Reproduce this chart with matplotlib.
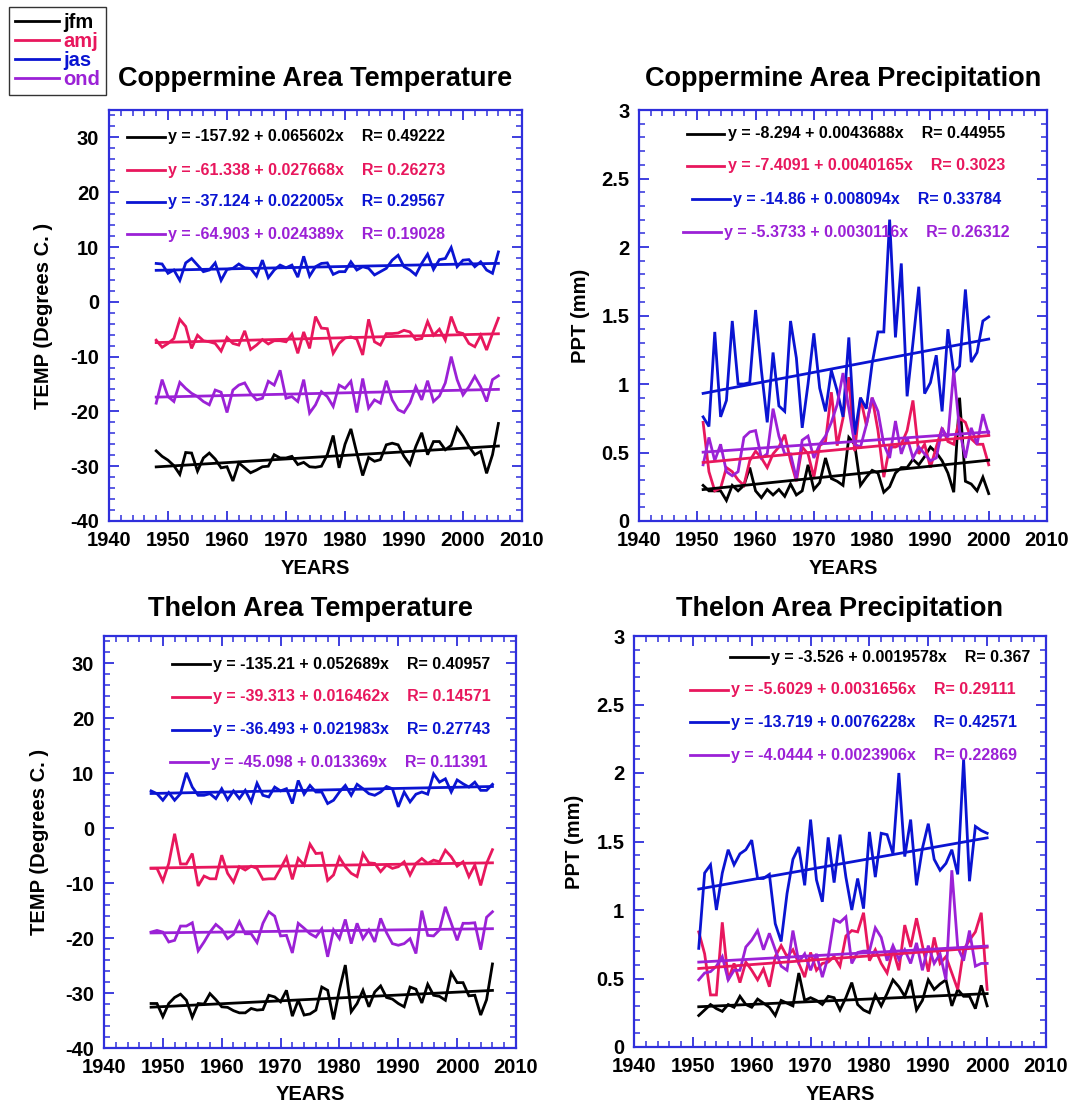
import numpy as np
import matplotlib
matplotlib.use("Agg")
import matplotlib.pyplot as plt
from matplotlib.lines import Line2D
from matplotlib.ticker import MultipleLocator, FormatStrFormatter

# フォント
plt.rcParams['font.family'] = ['Liberation Sans', 'DejaVu Sans']
plt.rcParams['font.weight'] = 'bold'
plt.rcParams['axes.unicode_minus'] = False

W, H = 1072, 1106

seasons = ['jfm', 'amj', 'jas', 'ond']
colors = ['black', '#e8175d', '#0a14d2', '#9b21d6']
axis_blue = '#2f2fdc'

temp_years = np.arange(1948, 2007)
ppt_years = np.arange(1951, 2001)

# Coppermine temperature
cop_temp_jfm = [-27.2, -28.2, -28.9, -29.9, -31.5, -27.5, -27.6, -30.9, -28.5, -27.6,
                -28.7, -30.3, -30.1, -32.7, -29.4, -30.3, -31.2, -30.7, -30.1, -30.0,
                -27.9, -28.5, -28.5, -28.2, -29.7, -29.3, -30.1, -30.2, -30.0, -27.9,
                -24.4, -30.3, -26.0, -23.2, -27.6, -31.7, -28.4, -29.1, -28.8, -26.1,
                -25.8, -26.1, -28.2, -29.7, -26.4, -23.9, -27.9, -25.5, -25.5, -27.0,
                -26.2, -23.0, -24.5, -26.4, -27.9, -27.3, -31.3, -27.9, -22.2]
cop_temp_amj = [-7.0, -8.3, -7.6, -6.7, -3.2, -4.5, -8.5, -6.1, -7.1, -7.3,
                -7.6, -9.0, -6.5, -7.6, -7.9, -5.3, -8.7, -7.9, -6.9, -7.7,
                -7.1, -7.1, -7.3, -5.9, -9.4, -5.5, -8.5, -2.7, -4.8, -4.9,
                -9.4, -7.6, -6.6, -6.4, -6.8, -9.7, -3.2, -7.3, -7.9, -5.8,
                -5.8, -5.7, -5.2, -5.5, -6.9, -6.7, -3.6, -6.1, -5.0, -7.0,
                -2.7, -5.5, -5.8, -7.6, -8.2, -6.1, -8.8, -5.8, -3.0]
cop_temp_jas = [7.0, 6.9, 5.2, 5.8, 3.9, 7.1, 7.9, 6.7, 5.5, 5.8,
                7.1, 3.9, 5.9, 6.1, 6.9, 6.2, 6.1, 4.7, 7.6, 4.4,
                5.8, 6.7, 6.2, 6.7, 4.5, 8.3, 4.7, 6.4, 7.0, 7.1,
                5.0, 5.5, 5.5, 7.3, 5.8, 6.4, 6.1, 4.9, 5.5, 6.1,
                7.6, 8.5, 6.4, 5.8, 4.9, 7.0, 8.7, 5.9, 7.7, 7.9,
                9.9, 6.4, 7.6, 7.7, 6.4, 7.3, 5.8, 5.2, 9.1]
cop_temp_ond = [-18.5, -14.2, -17.3, -18.2, -14.7, -15.8, -16.7, -17.3, -18.2, -18.8,
                -16.1, -16.5, -20.2, -16.1, -15.2, -14.8, -16.7, -17.9, -17.6, -14.5,
                -15.2, -12.5, -17.6, -17.3, -18.2, -14.2, -20.3, -18.8, -16.4, -17.3,
                -19.1, -15.2, -15.8, -14.5, -20.2, -14.0, -19.4, -17.9, -18.5, -14.4,
                -17.9, -19.7, -20.2, -18.5, -15.5, -17.9, -14.4, -18.2, -17.2, -14.8,
                -10.0, -14.2, -17.0, -15.5, -13.6, -15.5, -18.2, -14.2, -13.5]
cop_temp_a = [-157.92, -61.338, -37.124, -64.903]
cop_temp_b = [0.065602, 0.027668, 0.022005, 0.024389]
cop_temp_r = [0.49222, 0.26273, 0.29567, 0.19028]

# Coppermine precipitation
cop_ppt_jfm = [0.26, 0.22, 0.22, 0.22, 0.15, 0.26, 0.22, 0.26, 0.39, 0.22,
               0.17, 0.23, 0.19, 0.23, 0.18, 0.27, 0.19, 0.22, 0.41, 0.23,
               0.28, 0.46, 0.31, 0.29, 0.26, 0.61, 0.56, 0.26, 0.32, 0.37,
               0.35, 0.21, 0.25, 0.35, 0.39, 0.39, 0.45, 0.41, 0.47, 0.54,
               0.50, 0.44, 0.35, 0.21, 0.90, 0.29, 0.27, 0.22, 0.32, 0.20]
cop_ppt_amj = [0.72, 0.36, 0.22, 0.24, 0.39, 0.36, 0.30, 0.26, 0.44, 0.51,
               0.46, 0.39, 0.49, 0.54, 0.63, 0.44, 0.29, 0.54, 0.49, 0.32,
               0.55, 0.58, 0.94, 0.55, 0.75, 1.05, 0.51, 0.90, 0.70, 0.90,
               0.66, 0.32, 0.54, 0.54, 0.56, 0.66, 0.88, 0.49, 0.56, 0.39,
               0.54, 0.68, 0.58, 0.56, 0.75, 0.72, 0.60, 0.56, 0.56, 0.41]
cop_ppt_jas = [0.76, 0.69, 1.38, 0.76, 0.88, 1.46, 1.00, 1.00, 1.01, 1.54,
               1.10, 0.72, 1.23, 0.84, 0.80, 1.46, 1.19, 0.68, 1.00, 1.37,
               0.97, 0.80, 1.10, 0.95, 0.76, 1.34, 0.63, 0.90, 0.82, 1.15,
               1.38, 1.38, 2.20, 1.34, 1.88, 0.91, 1.30, 1.71, 0.93, 1.01,
               1.21, 0.80, 1.40, 1.08, 1.13, 1.69, 1.16, 1.23, 1.46, 1.49]
cop_ppt_ond = [0.41, 0.61, 0.44, 0.56, 0.36, 0.33, 0.36, 0.61, 0.65, 0.66,
               0.46, 0.49, 0.82, 0.62, 0.49, 0.49, 0.31, 0.59, 0.62, 0.46,
               0.56, 0.62, 0.72, 0.85, 1.08, 0.82, 0.56, 0.54, 0.70, 0.90,
               0.80, 0.56, 0.46, 0.73, 0.49, 0.61, 0.46, 0.54, 0.49, 0.44,
               0.46, 0.67, 0.61, 1.10, 0.66, 0.46, 0.68, 0.56, 0.78, 0.63]
cop_ppt_a = [-8.294, -7.4091, -14.86, -5.3733]
cop_ppt_b = [0.0043688, 0.0040165, 0.008094, 0.0030116]
cop_ppt_r = [0.44955, 0.3023, 0.33784, 0.26312]

# Thelon temperature
thl_temp_jfm = [-31.9, -31.9, -34.3, -31.9, -30.8, -30.2, -31.3, -34.4, -31.9, -32.0,
                -30.1, -31.2, -32.5, -32.6, -33.2, -33.6, -33.6, -32.8, -33.1, -33.0,
                -30.4, -30.7, -31.6, -29.5, -34.2, -31.3, -34.0, -33.8, -33.1, -28.9,
                -29.5, -34.8, -29.4, -24.9, -33.4, -31.9, -29.5, -32.5, -29.8, -28.7,
                -30.8, -31.1, -31.9, -32.5, -28.9, -29.3, -31.8, -28.4, -30.4, -30.6,
                -31.3, -26.3, -28.1, -28.1, -30.5, -30.4, -34.0, -31.2, -24.7]
thl_temp_amj = [-7.3, -7.3, -9.6, -6.4, -1.0, -6.5, -6.5, -4.6, -10.5, -8.7,
                -9.2, -9.2, -4.9, -8.2, -9.8, -7.0, -7.6, -6.9, -7.3, -9.3,
                -9.2, -9.2, -7.3, -5.3, -9.3, -5.5, -6.7, -2.9, -4.6, -4.5,
                -9.5, -8.5, -5.3, -7.0, -8.2, -8.8, -4.6, -6.3, -6.4, -7.9,
                -6.7, -7.3, -7.0, -6.1, -8.5, -6.4, -5.5, -6.4, -5.8, -6.1,
                -4.0, -5.2, -6.9, -6.1, -8.8, -6.7, -10.4, -6.4, -3.9]
thl_temp_jas = [6.8, 6.3, 5.1, 6.5, 5.1, 6.3, 10.1, 7.5, 6.0, 6.0,
                6.3, 5.4, 7.2, 5.2, 6.8, 5.4, 6.9, 4.8, 8.2, 6.0,
                5.7, 7.5, 6.8, 7.2, 4.5, 8.7, 6.2, 7.8, 6.6, 6.6,
                4.5, 5.1, 6.6, 7.8, 6.0, 8.0, 7.2, 6.3, 6.0, 6.6,
                7.6, 7.2, 3.9, 6.6, 4.8, 6.2, 6.6, 6.2, 9.9, 8.4,
                9.0, 6.6, 8.8, 8.1, 7.5, 8.4, 6.9, 6.9, 8.0]
thl_temp_ond = [-18.9, -18.6, -18.9, -20.7, -20.4, -17.8, -17.8, -17.2, -22.3, -20.7,
                -18.9, -17.5, -18.4, -20.1, -19.3, -17.0, -19.2, -19.2, -20.8, -17.3,
                -15.2, -16.0, -19.6, -19.5, -22.7, -17.3, -18.2, -19.2, -19.8, -18.3,
                -23.4, -18.5, -20.1, -16.6, -21.0, -17.3, -20.1, -18.5, -20.7, -16.4,
                -19.0, -21.0, -21.3, -21.0, -20.1, -22.8, -15.0, -19.5, -19.6, -18.5,
                -14.3, -17.3, -20.4, -17.3, -17.3, -17.2, -22.1, -16.2, -15.2]
thl_temp_a = [-135.21, -39.313, -36.493, -45.098]
thl_temp_b = [0.052689, 0.016462, 0.021983, 0.013369]
thl_temp_r = [0.40957, 0.14571, 0.27743, 0.11391]

# Thelon precipitation
thl_ppt_jfm = [0.23, 0.27, 0.31, 0.28, 0.26, 0.31, 0.29, 0.37, 0.31, 0.29,
               0.35, 0.32, 0.29, 0.23, 0.34, 0.32, 0.30, 0.54, 0.34, 0.36,
               0.34, 0.31, 0.37, 0.36, 0.27, 0.36, 0.47, 0.31, 0.27, 0.25,
               0.38, 0.30, 0.39, 0.49, 0.44, 0.37, 0.49, 0.27, 0.34, 0.49,
               0.42, 0.46, 0.49, 0.30, 0.42, 0.37, 0.37, 0.28, 0.45, 0.30]
thl_ppt_amj = [0.84, 0.68, 0.38, 0.38, 0.91, 0.49, 0.61, 0.47, 0.62, 0.56,
               0.49, 0.57, 0.44, 0.66, 0.74, 0.66, 0.71, 0.61, 0.51, 0.69,
               0.56, 0.61, 0.62, 0.66, 0.59, 0.81, 0.85, 0.84, 0.98, 0.63,
               0.71, 0.61, 0.54, 0.71, 0.56, 0.89, 0.73, 0.94, 0.74, 0.55,
               0.80, 0.61, 0.66, 0.54, 0.42, 0.71, 0.78, 0.84, 0.98, 0.42]
thl_ppt_jas = [0.72, 1.27, 1.33, 1.00, 1.27, 1.44, 1.33, 1.41, 1.44, 1.51,
               1.23, 1.23, 1.26, 0.90, 0.77, 1.12, 1.37, 1.46, 1.18, 1.66,
               1.22, 1.06, 1.53, 1.20, 1.55, 1.24, 1.00, 1.23, 1.01, 1.57,
               1.24, 1.56, 1.55, 1.41, 2.00, 1.39, 1.66, 1.18, 1.45, 1.63,
               1.37, 1.29, 1.34, 1.44, 1.26, 2.10, 1.21, 1.61, 1.58, 1.56]
thl_ppt_ond = [0.49, 0.54, 0.55, 0.59, 0.66, 0.49, 0.56, 0.56, 0.73, 0.78,
               0.85, 0.71, 0.83, 0.71, 0.59, 0.56, 0.85, 0.62, 0.68, 0.56,
               0.68, 0.51, 0.66, 0.93, 0.91, 0.95, 0.61, 0.69, 0.70, 0.70,
               0.87, 0.80, 0.63, 0.74, 0.64, 0.71, 0.61, 0.76, 0.56, 0.74,
               0.61, 0.68, 0.49, 1.29, 0.73, 0.63, 0.85, 0.59, 0.61, 0.61]
thl_ppt_a = [-3.526, -5.6029, -13.719, -4.0444]
thl_ppt_b = [0.0019578, 0.0031656, 0.0076228, 0.0023906]
thl_ppt_r = [0.367, 0.29111, 0.42571, 0.22869]

fig = plt.figure(figsize=(W / 100, H / 100), dpi=100)


def px_axes(x0, y0, x1, y1):
    return fig.add_axes([x0 / W, 1 - y1 / H, (x1 - x0) / W, (y1 - y0) / H])


def make_panel(rect, years, series, fa, fb, fr, title, title_y, ylabel, ylabel_x,
               kind, row_y, row_x, years_y):
    ax = px_axes(*rect)
    for vals, c in zip(series, colors):
        ax.plot(years, vals, color=c, lw=2.0, solid_joinstyle='miter')
    for a, b, c in zip(fa, fb, colors):
        ax.plot(years, a + b * years, color=c, lw=2.0)

    ax.set_xlim(1940, 2010)
    ax.xaxis.set_major_locator(MultipleLocator(10))
    ax.xaxis.set_minor_locator(MultipleLocator(2))
    if kind == 'temp':
        ax.set_ylim(-40, 35)
        ax.set_yticks(np.arange(-40, 31, 10))
        ax.yaxis.set_minor_locator(MultipleLocator(2))
    else:
        ax.set_ylim(0, 3)
        ax.yaxis.set_major_locator(MultipleLocator(0.5))
        ax.yaxis.set_minor_locator(MultipleLocator(0.1))
        ax.yaxis.set_major_formatter(FormatStrFormatter('%g'))

    for s in ax.spines.values():
        s.set_color(axis_blue)
        s.set_linewidth(1.6)
    ax.tick_params(which='both', direction='in', top=True, right=True,
                   color=axis_blue, labelsize=14.5)
    ax.tick_params(axis='x', pad=7)
    ax.tick_params(axis='y', pad=7)
    ax.tick_params(which='major', length=7, width=1.3)
    ax.tick_params(which='minor', length=4, width=1.1)
    for lab in ax.get_xticklabels() + ax.get_yticklabels():
        lab.set_fontweight('bold')

    # 回帰式
    for i in range(4):
        y = row_y[i]
        x0 = row_x[i]
        ax.plot([x0, x0 + 0.092], [y, y], transform=ax.transAxes,
                color=colors[i], lw=2.0, clip_on=False)
        eq = f"y = {fa[i]} + {fb[i]}x    R= {fr[i]}"
        ax.text(x0 + 0.100, y, eq, transform=ax.transAxes, color=colors[i],
                fontsize=11.5, fontweight='bold', va='center', ha='left')

    xc = (rect[0] + rect[2]) / 2
    fig.text(xc / W, 1 - title_y / H, title, ha='center', va='center',
             fontsize=19.5, fontweight='bold')
    fig.text(xc / W, 1 - years_y / H, 'YEARS', ha='center', va='center',
             fontsize=14.5, fontweight='bold')
    yc = (rect[1] + rect[3]) / 2
    fig.text(ylabel_x / W, 1 - yc / H, ylabel, ha='center', va='center',
             rotation=90, fontsize=14.5, fontweight='bold')
    return ax


make_panel((109, 110, 522, 521), temp_years,
           [cop_temp_jfm, cop_temp_amj, cop_temp_jas, cop_temp_ond],
           cop_temp_a, cop_temp_b, cop_temp_r,
           'Coppermine Area Temperature', 79, 'TEMP (Degrees C. )', 44, 'temp',
           [0.935, 0.854, 0.777, 0.698], [0.044] * 4, 569)

make_panel((639, 110, 1047, 521), ppt_years,
           [cop_ppt_jfm, cop_ppt_amj, cop_ppt_jas, cop_ppt_ond],
           cop_ppt_a, cop_ppt_b, cop_ppt_r,
           'Coppermine Area Precipitation', 79, 'PPT (mm)', 580, 'ppt',
           [0.942, 0.864, 0.783, 0.703], [0.117, 0.117, 0.130, 0.108], 569)

make_panel((104, 636, 516, 1048), temp_years,
           [thl_temp_jfm, thl_temp_amj, thl_temp_jas, thl_temp_ond],
           thl_temp_a, thl_temp_b, thl_temp_r,
           'Thelon Area Temperature', 609, 'TEMP (Degrees C. )', 40, 'temp',
           [0.931, 0.852, 0.773, 0.694], [0.165, 0.165, 0.165, 0.160], 1094)

make_panel((634, 636, 1046, 1047), ppt_years,
           [thl_ppt_jfm, thl_ppt_amj, thl_ppt_jas, thl_ppt_ond],
           thl_ppt_a, thl_ppt_b, thl_ppt_r,
           'Thelon Area Precipitation', 609, 'PPT (mm)', 575, 'ppt',
           [0.948, 0.869, 0.790, 0.710], [0.233, 0.136, 0.136, 0.136], 1094)

# 凡例
handles = [Line2D([], [], color=c, lw=2.0) for c in colors]
leg = fig.legend(handles, seasons, loc='upper left',
                 bbox_to_anchor=(9 / W, 1 - 7 / H), frameon=True, fancybox=False,
                 edgecolor='black', fontsize=14.5, handlelength=2.2,
                 handletextpad=0.2, labelspacing=0.0, borderpad=0.3,
                 borderaxespad=0.0, labelcolor='linecolor')
leg.get_frame().set_linewidth(1.0)
for t in leg.get_texts():
    t.set_fontweight('bold')

fig.savefig('out.png', dpi=100)
